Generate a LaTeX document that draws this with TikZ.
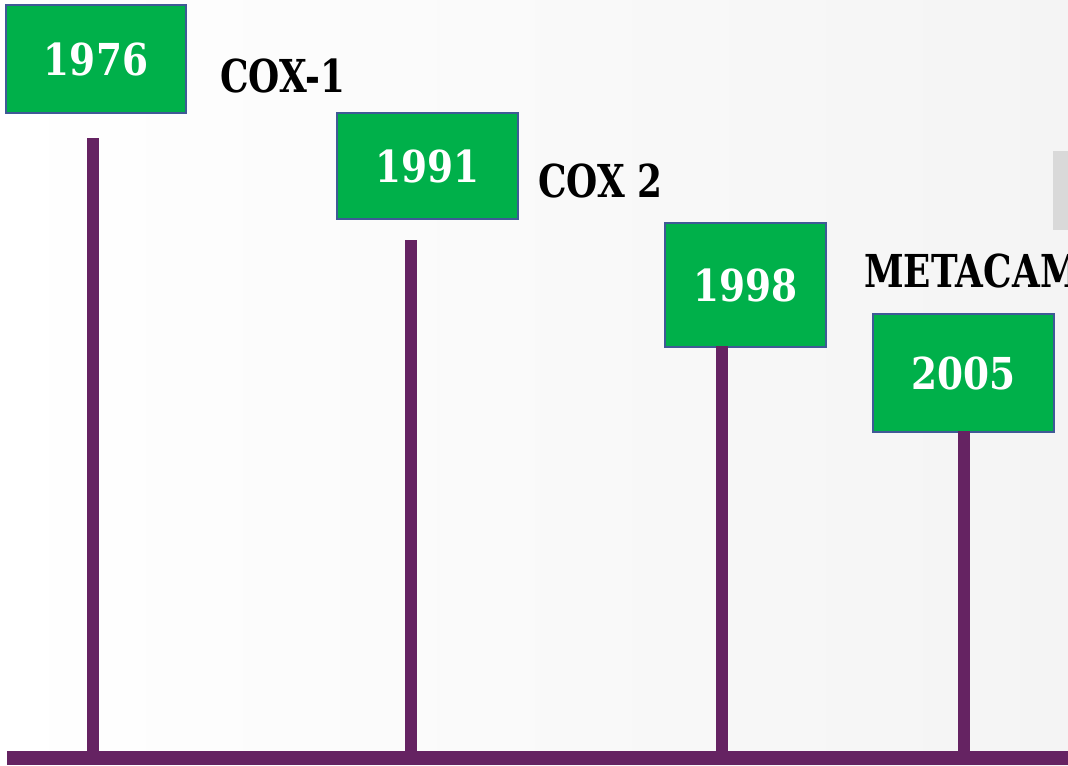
\documentclass[tikz,border=0pt]{standalone}
\usepackage{fontspec}
\setmainfont{DejaVu Serif}
\newfontfamily\labelfont[FakeStretch=0.79]{DejaVu Serif}
\newfontfamily\yearfont[FakeStretch=0.85]{DejaVu Serif}
\definecolor{boxgreen}{HTML}{00B04A}
\definecolor{boxblue}{HTML}{3F5A96}
\definecolor{stem}{HTML}{652362}
\definecolor{graybar}{HTML}{D9D9D9}
\definecolor{bgtop}{HTML}{FFFFFF}
\definecolor{bgbot}{HTML}{F4F4F4}
\tikzset{
  yearbox/.style={draw=boxblue, line width=1.5pt, fill=boxgreen, text=white,
    font=\yearfont\fontsize{33}{38}\bfseries\selectfont, inner sep=0pt},
  eventlabel/.style={anchor=base west, text=black, inner sep=0pt,
    font=\labelfont\fontsize{34}{40}\bfseries\selectfont},
  stemline/.style={draw=stem, line width=9pt},
}
\begin{document}
\begin{tikzpicture}[x=0.75pt,y=-0.75pt]
\useasboundingbox (0,0) rectangle (1068,765);
\clip (0,0) rectangle (1068,765);
\shade[shading=axis, shading angle=135, left color=bgtop, right color=bgbot] (0,0) rectangle (1068,765);
% gray bar at right edge
\fill[graybar] (1053,151) rectangle (1075,230);
% axis
\fill[stem] (7,751) rectangle (1075,765);
% boxes
\node[yearbox, minimum width=135pt, minimum height=81pt] (b1) at (96,59) {1976};
\node[yearbox, minimum width=135.75pt, minimum height=79.5pt] (b2) at (427.5,166) {1991};
\node[yearbox, minimum width=120.75pt, minimum height=93pt] (b3) at (745.5,285) {1998};
\node[yearbox, minimum width=135.75pt, minimum height=88.5pt] (b4) at (963.5,373) {2005};
% labels
\node[eventlabel] (l1) at (220,92) {COX-1};
\node[eventlabel] (l2) at (538,197) {COX 2};
\node[eventlabel] (l3) at (864,287) {METACAM};
% stems
\coordinate (t1) at (93,138);
\coordinate (a1) at (93,751);
\coordinate (t2) at (411,240);
\coordinate (a2) at (411,752);
\coordinate (t3) at (722,346);
\coordinate (a3) at (722,752);
\coordinate (t4) at (964,431);
\coordinate (a4) at (964,752);
\draw[stemline] (t1) -- (a1);
\draw[stemline] (t2) -- (a2);
\draw[stemline] (t3) -- (a3);
\draw[stemline] (t4) -- (a4);
\end{tikzpicture}
\end{document}
